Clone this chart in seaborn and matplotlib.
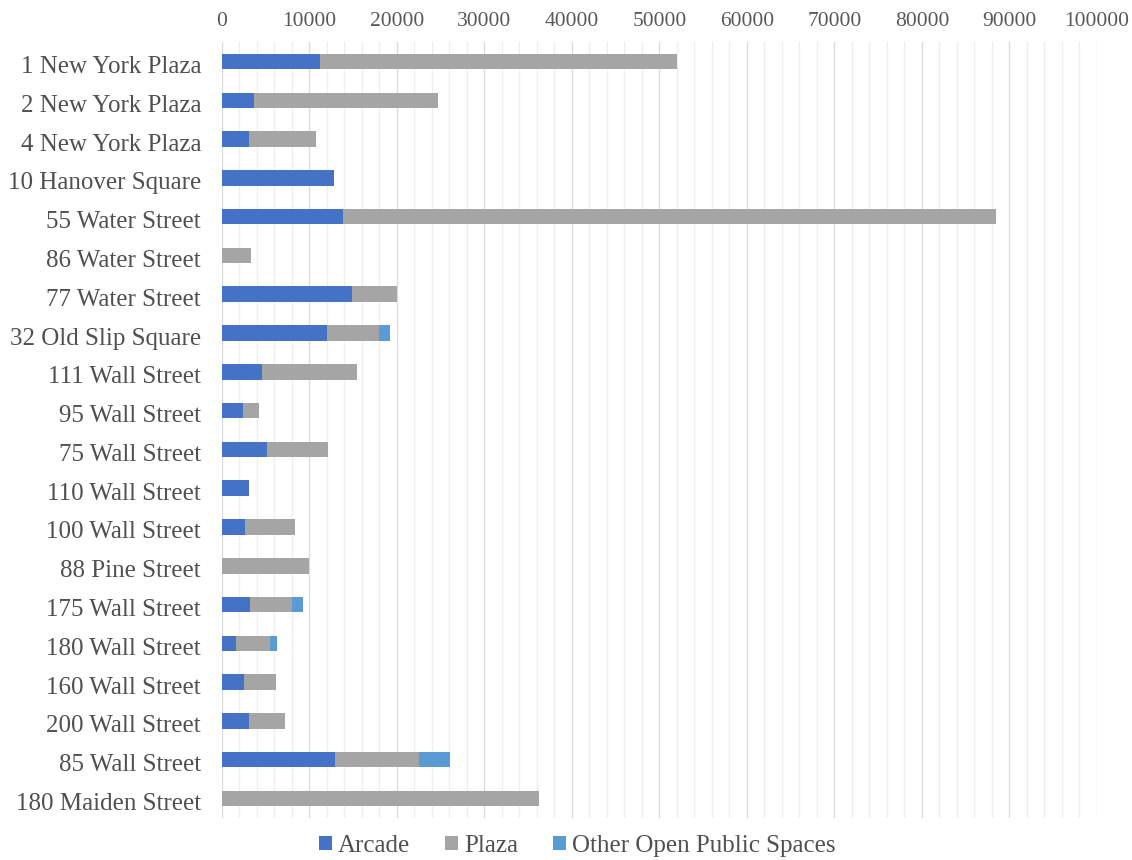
import pandas as pd
import numpy as np
import seaborn as sns
import matplotlib.pyplot as plt
import matplotlib.transforms as mtransforms
from matplotlib.ticker import MultipleLocator
from matplotlib.patches import Patch

buildings = ["1 New York Plaza", "2 New York Plaza", "4 New York Plaza", "10 Hanover Square",
             "55 Water Street", "86 Water Street", "77 Water Street", "32 Old Slip Square",
             "111 Wall Street", "95 Wall Street", "75 Wall Street", "110 Wall Street",
             "100 Wall Street", "88 Pine Street", "175 Wall Street", "180 Wall Street",
             "160 Wall Street", "200 Wall Street", "85 Wall Street", "180 Maiden Street"]
arcade = [11200, 3650, 3100, 12800, 13800, 0, 14900, 12000, 4600, 2400, 5150, 3100,
          2600, 0, 3200, 1600, 2550, 3150, 12900, 0]
plaza = [40800, 21000, 7650, 0, 74700, 3300, 5100, 5900, 10800, 1900, 6950, 0,
         5800, 9900, 4850, 3950, 3650, 4050, 9600, 36200]
other = [0, 0, 0, 0, 0, 0, 0, 1300, 0, 0, 0, 0, 0, 0, 1200, 750, 0, 0, 3600, 0]

series = ["Arcade", "Plaza", "Other Open Public Spaces"]
colors = ["#4472C4", "#A5A5A5", "#5B9BD5"]

df = pd.DataFrame({"building": buildings, "Arcade": arcade, "Plaza": plaza,
                   "Other Open Public Spaces": other})
df["cum_arcade"] = df["Arcade"]
df["cum_plaza"] = df["cum_arcade"] + df["Plaza"]
df["cum_other"] = df["cum_plaza"] + df["Other Open Public Spaces"]

plt.rcParams['font.family'] = ['Liberation Serif', 'DejaVu Serif']

fig, ax = plt.subplots(figsize=(11.32, 8.6), dpi=100)
fig.subplots_adjust(left=0.196, right=0.969, top=0.951, bottom=0.049)

# stacked bars: draw cumulative totals back to front
for col, c in zip(["cum_other", "cum_plaza", "cum_arcade"], colors[::-1]):
    sns.barplot(data=df, y="building", x=col, orient="h", color=c, width=0.4,
                saturation=1, ax=ax, zorder=3)

ax.set_xlim(0, 100000)
ax.set_ylim(19.5, -0.5)
ax.xaxis.set_major_locator(MultipleLocator(10000))
ax.xaxis.set_minor_locator(MultipleLocator(2000))
ax.xaxis.tick_top()
ax.grid(axis="x", which="minor", color="#EEEEEE", linewidth=0.9, zorder=0)
ax.grid(axis="x", which="major", color="#DCDCDC", linewidth=1.0, zorder=0)
ax.set_axisbelow(True)
ax.tick_params(axis="x", which="both", length=0, labelsize=15.5, colors="#595959", pad=8)
ax.tick_params(axis="y", length=0, labelsize=18, colors="#505050", pad=15)
ax.set_xlabel("")
ax.set_ylabel("")
for s in ax.spines.values():
    s.set_visible(False)

# nudge category labels slightly down, as in the original
shift = mtransforms.ScaledTranslation(0, -3 / 100, fig.dpi_scale_trans)
for lbl in ax.get_yticklabels():
    lbl.set_transform(lbl.get_transform() + shift)

handles = [Patch(facecolor=c, label=l) for c, l in zip(colors, series)]
leg = fig.legend(handles=handles, loc="center", bbox_to_anchor=(0.51, 0.016), ncol=3,
                 frameon=False, fontsize=18, handlelength=0.5, handleheight=0.5,
                 handletextpad=0.25, columnspacing=1.4, borderpad=0.1)
for t in leg.get_texts():
    t.set_color("#505050")

plt.savefig("out.png", dpi=100)
